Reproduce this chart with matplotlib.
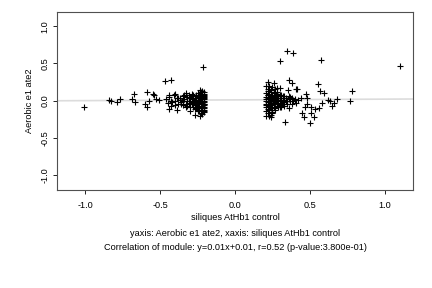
import matplotlib
matplotlib.use("Agg")
import matplotlib.pyplot as plt
import numpy as np

plt.rcParams['font.family'] = ['Liberation Sans', 'DejaVu Sans']

# dense cluster, negative side
left_x = [-0.46, -0.45, -0.44, -0.43, -0.42, -0.41, -0.40, -0.39, -0.38, -0.37,
          -0.36, -0.35, -0.35, -0.34, -0.33, -0.33, -0.32, -0.32, -0.31, -0.31,
          -0.30, -0.30, -0.30, -0.29, -0.29, -0.29, -0.28, -0.28, -0.28, -0.28,
          -0.27, -0.27, -0.27, -0.27, -0.26, -0.26, -0.26, -0.26, -0.26, -0.25,
          -0.25, -0.25, -0.25, -0.25, -0.24, -0.24, -0.24, -0.24, -0.24, -0.24,
          -0.23, -0.23, -0.23, -0.23, -0.23, -0.23, -0.23, -0.22, -0.22, -0.22,
          -0.22, -0.22, -0.22, -0.22, -0.22, -0.21, -0.21, -0.21, -0.21, -0.21,
          -0.21, -0.21, -0.21, -0.21, -0.21, -0.21, -0.21, -0.21, -0.21, -0.21,
          -0.38, -0.36, -0.34, -0.32, -0.30, -0.28, -0.26, -0.24, -0.22, -0.21,
          -0.40, -0.37, -0.33, -0.31, -0.27, -0.25, -0.23, -0.21, -0.43, -0.35]
left_y = [0.02, -0.03, 0.05, 0.00, -0.02, 0.07, -0.01, 0.03, -0.05, 0.01,
          -0.02, 0.06, -0.06, 0.02, -0.04, 0.08, 0.00, -0.07, 0.04, -0.03,
          0.05, -0.01, -0.08, 0.02, -0.05, 0.09, 0.03, -0.02, -0.09, 0.06,
          0.00, -0.06, 0.04, -0.11, 0.08, 0.01, -0.04, -0.08, 0.03, -0.02,
          0.05, -0.07, 0.10, -0.12, 0.00, 0.06, -0.03, -0.09, 0.03, -0.14,
          0.02, -0.05, 0.07, -0.10, 0.11, -0.01, -0.16, 0.04, -0.03, 0.09,
          -0.07, -0.12, 0.13, 0.00, -0.18, 0.05, -0.02, 0.08, -0.06, -0.10,
          0.11, -0.14, 0.02, -0.04, 0.06, -0.01, 0.09, -0.08, -0.05, 0.03,
          0.04, -0.04, 0.07, 0.05, -0.04, 0.07, -0.10, 0.08, 0.06, -0.12,
          -0.06, 0.03, -0.08, 0.07, -0.03, 0.01, 0.04, -0.15, -0.07, 0.00]

# dense cluster, positive side
right_x = [0.21, 0.21, 0.21, 0.21, 0.21, 0.21, 0.21, 0.21, 0.22, 0.22,
           0.22, 0.22, 0.22, 0.22, 0.23, 0.23, 0.23, 0.23, 0.23, 0.23,
           0.24, 0.24, 0.24, 0.24, 0.24, 0.24, 0.25, 0.25, 0.25, 0.25,
           0.25, 0.26, 0.26, 0.26, 0.26, 0.26, 0.27, 0.27, 0.27, 0.27,
           0.28, 0.28, 0.28, 0.28, 0.29, 0.29, 0.29, 0.30, 0.30, 0.30,
           0.31, 0.31, 0.32, 0.32, 0.33, 0.33, 0.34, 0.34, 0.35, 0.36,
           0.37, 0.38, 0.39, 0.40, 0.41, 0.42, 0.31, 0.33, 0.35, 0.37,
           0.21, 0.22, 0.23, 0.24, 0.25, 0.26, 0.27, 0.28, 0.29, 0.30,
           0.22, 0.23, 0.24, 0.25, 0.26, 0.27, 0.28, 0.29, 0.30, 0.32,
           0.21, 0.23, 0.25, 0.27, 0.29, 0.31, 0.33, 0.36, 0.38, 0.40]
right_y = [0.05, 0.00, -0.04, -0.09, 0.10, -0.14, 0.02, -0.06, 0.07, -0.02,
           -0.11, 0.13, -0.17, 0.03, 0.00, -0.05, 0.09, -0.08, -0.13, 0.04,
           0.06, -0.03, 0.11, -0.10, -0.19, 0.01, 0.03, -0.06, 0.08, -0.12,
           -0.15, 0.00, 0.05, -0.04, -0.08, 0.10, 0.02, -0.02, 0.07, -0.10,
           0.04, -0.05, 0.09, -0.01, 0.01, -0.07, 0.06, 0.03, -0.03, 0.08,
           0.00, -0.06, 0.04, -0.02, 0.01, -0.04, 0.03, -0.01, 0.00, 0.02,
           -0.01, 0.04, 0.00, 0.02, -0.03, 0.01, 0.07, 0.06, -0.05, 0.05,
           -0.20, 0.16, -0.21, 0.14, -0.17, 0.12, -0.12, 0.12, -0.08, -0.09,
           0.08, -0.07, 0.02, 0.05, -0.01, 0.04, -0.03, 0.03, 0.01, 0.06,
           0.19, 0.20, 0.18, 0.15, -0.05, -0.09, -0.07, 0.06, -0.04, 0.01]

# scattered points
out_x = [-1.007, -0.845, -0.827, -0.787, -0.771, -0.678, -0.687, -0.671, -0.585, -0.549,
         -0.540, -0.605, -0.585, -0.573, -0.529, -0.511, -0.211, -0.471, -0.431, -0.265,
         -0.233, -0.300, -0.438, -0.385, -0.245, -0.233, -0.329, -0.400, -0.440,
         0.349, 0.389, 0.302, 0.575, 1.100, 0.555, 0.569, 0.595, 0.782, 0.767,
         0.682, 0.662, 0.647, 0.620, 0.633, 0.582, 0.562, 0.535, 0.509, 0.529,
         0.462, 0.449, 0.507, 0.502, 0.482, 0.469, 0.476, 0.480, 0.440, 0.362,
         0.382, 0.409, 0.415, 0.331, 0.222, 0.260, 0.282, 0.300, 0.355, 0.358,
         0.240]
out_y = [-0.085, 0.014, 0.000, -0.018, 0.027, 0.095, 0.023, -0.018, 0.120, 0.090,
         0.077, -0.040, -0.080, -0.010, 0.023, 0.014, 0.446, 0.260, 0.280, -0.190,
         -0.210, -0.145, -0.108, -0.130, -0.145, 0.140, 0.104, 0.090, 0.080,
         0.660, 0.635, 0.527, 0.540, 0.460, 0.220, 0.135, 0.108, 0.135, 0.000,
         0.027, -0.027, -0.068, 0.004, 0.000, -0.027, -0.100, -0.108, -0.081, -0.216,
         -0.216, -0.162, -0.162, -0.297, -0.045, -0.090, 0.095, 0.036, 0.036, 0.275,
         0.234, 0.160, 0.160, -0.284, 0.248, 0.230, 0.172, 0.166, 0.149, -0.104,
         -0.220]

slope = 0.01
intercept = 0.01
ticks = [-1.0, -0.5, 0.0, 0.5, 1.0]

x_name = "siliques AtHb1 control"
y_name = "Aerobic e1 ate2"

fig = plt.figure(figsize=(4.32, 2.88), dpi=100)
ax = fig.add_axes([57 / 432, 1 - 190 / 288, 356 / 432, 178 / 288])

xs = np.array(left_x + right_x + out_x)
ys = np.array(left_y + right_y + out_y)

ax.set_xlim(-1.19, 1.19)
ax.set_ylim(-1.2, 1.19)

ax.plot([-1.19, 1.19], [slope * -1.19 + intercept, slope * 1.19 + intercept],
        color='#dcdcdc', lw=1.2, zorder=1)
ax.plot(xs, ys, '+', color='black', ms=5, mew=0.8, zorder=2)

ax.set_xticks(ticks)
ax.set_yticks(ticks)
ax.set_xticklabels(['%.1f' % t for t in ticks])
ax.set_yticklabels(['%.1f' % t for t in ticks], rotation=90, va='center')
ax.tick_params(axis='both', length=3, width=0.6, labelsize=6.6, colors='black')
ax.tick_params(axis='x', pad=5)
ax.tick_params(axis='y', pad=2.5)
for s in ax.spines.values():
    s.set_color('#505050')
    s.set_linewidth(0.8)

cx = (57 + 413) / 2 / 432
fig.text(cx, 1 - 217 / 288, x_name, ha='center', va='center', fontsize=6.6)
fig.text(30 / 432, 1 - 101 / 288, y_name, ha='center', va='center', rotation=90, fontsize=6.6)
fig.text(cx, 1 - 233 / 288, "yaxis: %s, xaxis: %s" % (y_name, x_name),
         ha='center', va='center', fontsize=6.6)
fig.text(cx, 1 - 248 / 288,
         "Correlation of module: y=%.2fx+%.2f, r=0.52 (p-value:3.800e-01)" % (slope, intercept),
         ha='center', va='center', fontsize=6.6)

fig.savefig('out.png', dpi=100)
